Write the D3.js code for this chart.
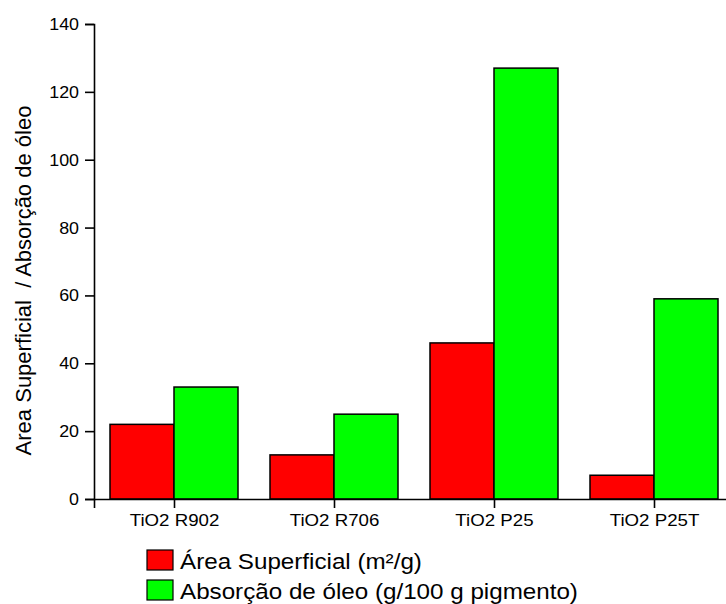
<!DOCTYPE html>
<html>
<head>
<meta charset="utf-8">
<script src="https://cdn.jsdelivr.net/npm/d3@7"></script>
<style>
    body { margin: 0; background: #fff; }
    svg text { font-family: "Liberation Sans", Arial, sans-serif; fill: #000; }
</style>
</head>
<body>
<div id="chart"></div>
<script>
// data
const categories = ["TiO2 R902", "TiO2 R706", "TiO2 P25", "TiO2 P25T"];
const areaSuperficial = [22, 13, 46, 7];
const absorcaoOleo = [33, 25, 127, 59];
const seriesNames = ["Área Superficial (m²/g)", "Absorção de óleo (g/100 g pigmento)"];
const seriesColors = ["#ff0000", "#00ff00"];
const yMajorTicks = [0, 20, 40, 60, 80, 100, 120, 140];

const width = 726, height = 604;
const stretch = 1.1; // the original text is a bit wide

let svg = d3.select("#chart")
    .append("svg")
    .attr("width", width)
    .attr("height", height);

// x is a linear scale: category i sits at i+1, the axis runs 0.5 .. 4.5
let x = d3.scaleLinear().domain([0.5, 4.5]).range([94, 734]);
let y = d3.scaleLinear().domain([0, 140]).range([499, 24]);

const barW = 0.4; // in category units

let series = [areaSuperficial, absorcaoOleo];

series.forEach(function (values, s) {
    svg.append("g")
        .selectAll("rect")
        .data(values)
        .enter().append("rect")
        .attr("x", function (d, i) {
            return s === 0 ? x(i + 1 - barW) : x(i + 1);
        })
        .attr("y", d => y(d))
        .attr("width", x(1 + barW) - x(1))
        .attr("height", d => y(0) - y(d))
        .attr("fill", seriesColors[s])
        .attr("stroke", "#000")
        .attr("stroke-width", 1.5);
});

/*
AXES
major ticks with labels, minor ticks in between
 */
let yAxis = svg.append("g").attr("transform", "translate(" + x(0.5) + ",0)");
yAxis.call(d3.axisLeft(y).tickValues(d3.range(10, 140, 20)).tickSize(5).tickFormat(""));
yAxis.call(d3.axisLeft(y).tickValues(yMajorTicks).tickSize(9).tickPadding(5));

let xAxis = svg.append("g").attr("transform", "translate(0," + y(0) + ")");
xAxis.call(d3.axisBottom(x).tickValues([0.5, 1.5, 2.5, 3.5, 4.5]).tickSize(5).tickFormat(""));
xAxis.call(d3.axisBottom(x).tickValues([1, 2, 3, 4]).tickSize(9).tickPadding(6)
    .tickFormat((d, i) => categories[i]));

svg.selectAll(".domain").attr("stroke", "#000").attr("stroke-width", 1.6);
svg.selectAll(".tick line").attr("stroke", "#000").attr("stroke-width", 1.6);

yAxis.selectAll(".tick text")
    .style("font-size", "17px")
    .attr("x", -15 / 1.05)
    .attr("transform", "scale(1.05,1)");
xAxis.selectAll(".tick text")
    .style("font-size", "17px")
    .attr("transform", "scale(" + stretch + ",1)");

// y title
svg.append("text")
    .attr("transform", "translate(31," + ((y(0) + y(140)) / 2 + 19) + ") rotate(-90)")
    .attr("text-anchor", "middle")
    .attr("xml:space", "preserve")
    .style("font-size", "22px")
    .text("Area Superficial  / Absorção de óleo");

// legend
let legend = svg.append("g")
    .selectAll("g")
    .data(seriesNames)
    .enter().append("g")
    .attr("transform", (d, i) => "translate(147," + (550 + i * 30) + ")");

legend.append("rect")
    .attr("width", 26)
    .attr("height", 20)
    .attr("fill", (d, i) => seriesColors[i])
    .attr("stroke", "#000")
    .attr("stroke-width", 1.2);

legend.append("text")
    .attr("transform", "translate(33,19) scale(" + stretch + ",1)")
    .style("font-size", "22px")
    .text(d => d);
</script>
</body>
</html>
